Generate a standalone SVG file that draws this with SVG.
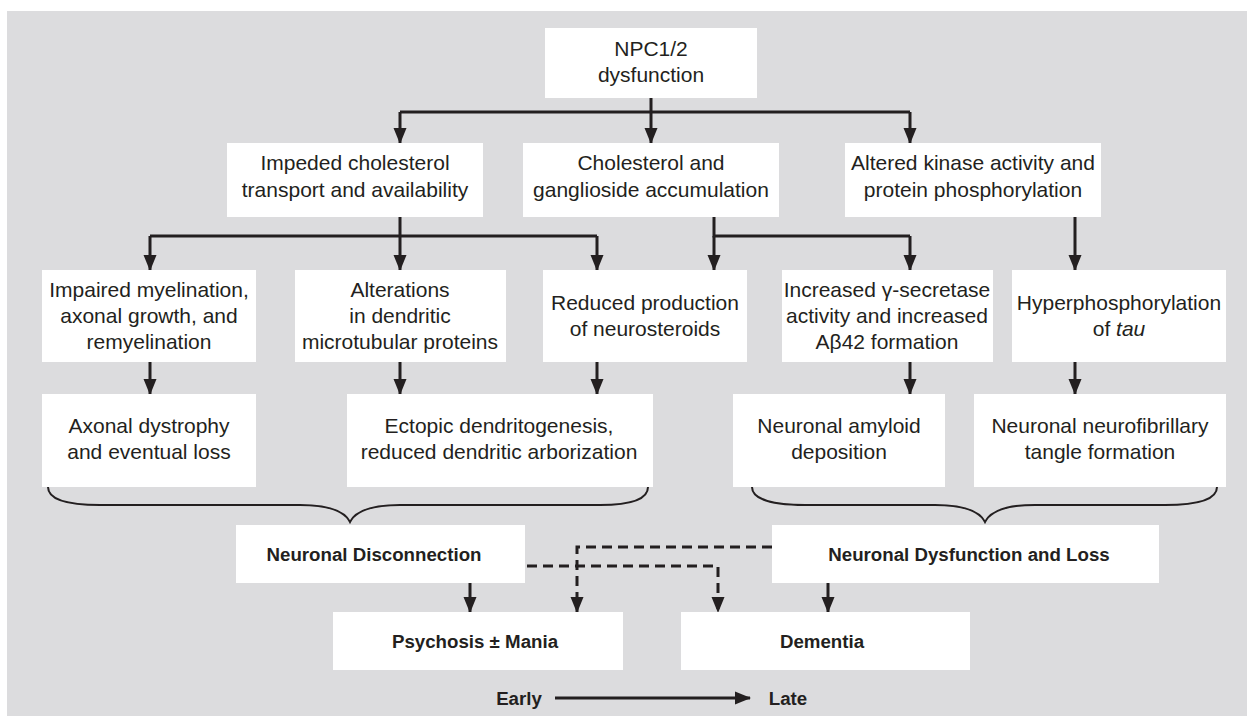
<svg xmlns="http://www.w3.org/2000/svg" width="1247" height="716" viewBox="0 0 1247 716">
<defs>
<marker id="ah" markerUnits="userSpaceOnUse" markerWidth="16" markerHeight="14" refX="15" refY="6.5" orient="auto" viewBox="0 0 16 13">
<path d="M0,0 L16,6.5 L0,13 Z" fill="#231f20"/>
</marker>
<style>
.box{fill:#ffffff}
.t{font-family:"Liberation Sans",Arial,sans-serif;font-size:21px;fill:#231f20;text-anchor:middle}
.b{font-family:"Liberation Sans",Arial,sans-serif;font-size:18.7px;font-weight:bold;fill:#231f20;text-anchor:middle}
.ln{fill:none;stroke:#231f20;stroke-width:3}
.br{fill:none;stroke:#231f20;stroke-width:2}
.ar{fill:none;stroke:#231f20;stroke-width:3;marker-end:url(#ah)}
.da{fill:none;stroke:#231f20;stroke-width:3;stroke-dasharray:10 6;marker-end:url(#ah)}
</style>
</defs>
<rect x="0" y="0" width="1247" height="716" fill="#ffffff"/>
<rect x="7" y="11" width="1240" height="705" fill="#dcdcde"/>

<g id="connectors">
<path class="ln" d="M651,98 V112 M400,112 H910"/>
<path class="ar" d="M400,112 V143"/>
<path class="ar" d="M651,112 V143"/>
<path class="ar" d="M910,112 V143"/>
<path class="ln" d="M400,217 V236 M150,236 H597"/>
<path class="ar" d="M150,236 V270"/>
<path class="ar" d="M400,236 V270"/>
<path class="ar" d="M597,236 V270"/>
<path class="ln" d="M714,217 V236 H910"/>
<path class="ar" d="M714,236 V270"/>
<path class="ar" d="M910,236 V270"/>
<path class="ar" d="M1075,217 V270"/>
<path class="ar" d="M150,362 V394"/>
<path class="ar" d="M400,362 V394"/>
<path class="ar" d="M597,362 V394"/>
<path class="ar" d="M910,362 V394"/>
<path class="ar" d="M1075,362 V394"/>
<path class="br" d="M48,487 C48,500 70,505 100,505 L300,505 C330,505 345,512 350,522 C355,512 370,505 400,505 L600,505 C630,505 648,500 648,487"/>
<path class="br" d="M752,487 C752,500 775,505 805,505 L935,505 C965,505 980,512 985,522 C990,512 1005,505 1035,505 L1165,505 C1195,505 1217,500 1217,487"/>
<path class="ar" d="M470,583 V612"/>
<path class="ar" d="M828,583 V612"/>
<path class="da" d="M527,566 H718 V612"/>
<path class="da" d="M772,547 H577 V612"/>
<path class="ar" d="M555,698 H750"/>
</g>

<g id="n_npc"><rect class="box" x="545" y="28" width="212" height="70"/>
<text class="t" x="651" y="56">NPC1/2</text><text class="t" x="651" y="82">dysfunction</text></g>

<g id="n_impeded"><rect class="box" x="227" y="143" width="256" height="74"/>
<text class="t" x="355" y="170">Impeded cholesterol</text><text class="t" x="355" y="197">transport and availability</text></g>
<g id="n_chol"><rect class="box" x="523" y="143" width="256" height="74"/>
<text class="t" x="651" y="170">Cholesterol and</text><text class="t" x="651" y="197">ganglioside accumulation</text></g>
<g id="n_kinase"><rect class="box" x="845" y="143" width="256" height="74"/>
<text class="t" x="973" y="170">Altered kinase activity and</text><text class="t" x="973" y="197">protein phosphorylation</text></g>

<g id="n_myel"><rect class="box" x="42" y="270" width="214" height="92"/>
<text class="t" x="149" y="297">Impaired myelination,</text><text class="t" x="149" y="323">axonal growth, and</text><text class="t" x="149" y="349">remyelination</text></g>
<g id="n_alter"><rect class="box" x="295" y="270" width="211" height="92"/>
<text class="t" x="400" y="297">Alterations</text><text class="t" x="400" y="323">in dendritic</text><text class="t" x="400" y="349">microtubular proteins</text></g>
<g id="n_neuro"><rect class="box" x="543" y="270" width="204" height="92"/>
<text class="t" x="645" y="310">Reduced production</text><text class="t" x="645" y="336">of neurosteroids</text></g>
<g id="n_gamma"><rect class="box" x="782" y="270" width="211" height="92"/>
<text class="t" x="887" y="297">Increased γ-secretase</text><text class="t" x="887" y="323">activity and increased</text><text class="t" x="887" y="349">Aβ42 formation</text></g>
<g id="n_hyper"><rect class="box" x="1012" y="270" width="214" height="92"/>
<text class="t" x="1119" y="310">Hyperphosphorylation</text><text class="t" x="1119" y="336">of <tspan font-style="italic">tau</tspan></text></g>

<g id="n_axonal"><rect class="box" x="42" y="394" width="214" height="93"/>
<text class="t" x="149" y="433">Axonal dystrophy</text><text class="t" x="149" y="459">and eventual loss</text></g>
<g id="n_ectopic"><rect class="box" x="347" y="394" width="306" height="93"/>
<text class="t" x="499" y="433">Ectopic dendritogenesis,</text><text class="t" x="499" y="459">reduced dendritic arborization</text></g>
<g id="n_amyloid"><rect class="box" x="733" y="394" width="212" height="93"/>
<text class="t" x="839" y="433">Neuronal amyloid</text><text class="t" x="839" y="459">deposition</text></g>
<g id="n_tangle"><rect class="box" x="974" y="394" width="252" height="93"/>
<text class="t" x="1100" y="433">Neuronal neurofibrillary</text><text class="t" x="1100" y="459">tangle formation</text></g>

<g id="n_disc"><rect class="box" x="236" y="525" width="289" height="58"/>
<text class="b" x="374" y="561">Neuronal Disconnection</text></g>
<g id="n_dysf"><rect class="box" x="772" y="525" width="387" height="58"/>
<text class="b" x="969" y="561">Neuronal Dysfunction and Loss</text></g>

<g id="n_psych"><rect class="box" x="333" y="612" width="290" height="58"/>
<text class="b" x="475" y="648">Psychosis ± Mania</text></g>
<g id="n_dem"><rect class="box" x="681" y="612" width="289" height="58"/>
<text class="b" x="822" y="648">Dementia</text></g>

<g id="timeline">
<text class="b" x="519" y="705">Early</text>
<text class="b" x="788" y="705">Late</text>
</g>
</svg>
